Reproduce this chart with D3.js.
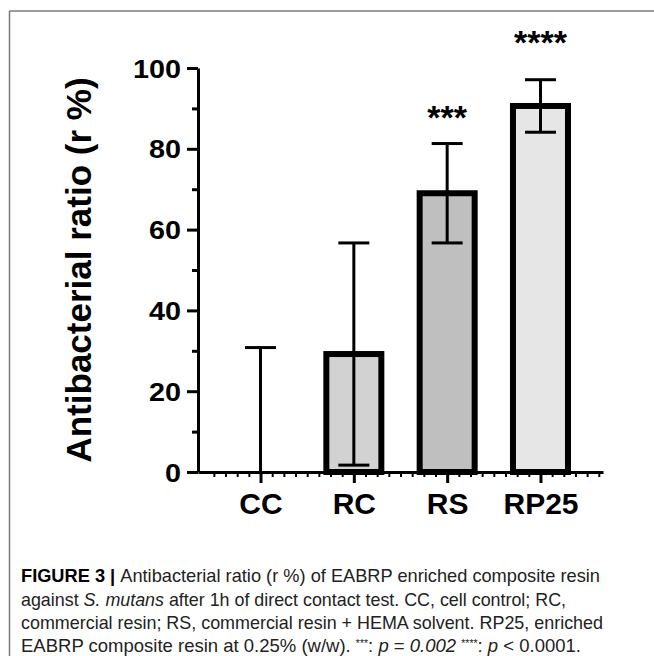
<!DOCTYPE html>
<html><head><meta charset="utf-8">
<script src="https://cdn.jsdelivr.net/npm/d3@7"></script>
<style>body{margin:0;background:#fff}svg{display:block}</style>
</head><body>
<svg id="chart" width="654" height="656"></svg>
<script>
// ---- data ----
const categories = ["CC", "RC", "RS", "RP25"];
const means = [0, 29.2, 69.0, 90.6];
const sds = [30.8, 27.5, 12.3, 6.5];
const fills = ["#ffffff", "#d2d2d2", "#bfbfbf", "#e6e6e6"];
const sigLabels = ["", "", "***", "****"];
const sigLevels = [null, null, 84.9, 103.5];
const yTicks = [0, 20, 40, 60, 80, 100];
const yMinorTicks = [10, 30, 50, 70, 90];
const yTitle = "Antibacterial ratio (r %)";

const svg = d3.select("#chart");
const W = 654, H = 656;
const axisX = 198, y0 = 472, y100 = 68, xEnd = 603;

// frame (top and left border of figure)
svg.append("line").attr("x1", 9.5).attr("x2", W).attr("y1", 11).attr("y2", 11)
  .attr("stroke", "#7a7a7a").attr("stroke-width", 1.5);
svg.append("line").attr("x1", 9.5).attr("x2", 9.5).attr("y1", 11).attr("y2", H)
  .attr("stroke", "#7a7a7a").attr("stroke-width", 1.5);

const y = d3.scaleLinear().domain([0, 100]).range([y0, y100]);
const x = d3.scalePoint().domain(categories).range([axisX, xEnd]).padding(0.67);
const barW = 55;

const data = categories.map((c, i) => ({ c, m: means[i], sd: sds[i], fill: fills[i], sig: sigLabels[i], sigY: sigLevels[i] }));

// bars
svg.append("g").selectAll("rect").data(data.filter(d => d.m > 0)).join("rect")
  .attr("x", d => x(d.c) - barW / 2)
  .attr("y", d => y(d.m))
  .attr("width", barW)
  .attr("height", d => y(0) - y(d.m))
  .attr("fill", d => d.fill)
  .attr("stroke", "#000")
  .attr("stroke-width", 6);

// error bars
const capW = 31;
const eg = svg.append("g").attr("stroke", "#000").attr("stroke-width", 3).attr("fill", "none");
data.forEach(d => {
  const hi = d.m + d.sd, lo = Math.max(0, d.m - d.sd);
  const cx = x(d.c);
  eg.append("line").attr("x1", cx).attr("x2", cx).attr("y1", y(hi)).attr("y2", y(lo));
  eg.append("line").attr("x1", cx - capW / 2).attr("x2", cx + capW / 2).attr("y1", y(hi)).attr("y2", y(hi));
  if (d.m - d.sd > 0) {
    eg.append("line").attr("x1", cx - capW / 2).attr("x2", cx + capW / 2).attr("y1", y(lo)).attr("y2", y(lo));
  }
});

// y axis
const sx = 1.15;
const yAxis = svg.append("g").attr("transform", `translate(${axisX},0)`)
  .call(d3.axisLeft(y).tickValues(yTicks).tickSize(11).tickSizeOuter(0).tickPadding(6));
yAxis.select(".domain").attr("stroke-width", 3);
yAxis.selectAll(".tick line").attr("stroke-width", 3);
yAxis.selectAll(".tick text")
  .attr("font-family", "'Liberation Sans', Arial, sans-serif")
  .attr("font-weight", "bold").attr("font-size", 25).attr("fill", "#000")
  .attr("x", -17 / sx).attr("dy", "0.36em")
  .attr("transform", `scale(${sx},1)`);
const yMinor = svg.append("g").attr("transform", `translate(${axisX},0)`)
  .call(d3.axisLeft(y).tickValues(yMinorTicks).tickSize(6).tickFormat(""));
yMinor.select(".domain").remove();
yMinor.selectAll(".tick line").attr("stroke-width", 3);

// x axis
const xAxis = svg.append("g").attr("transform", `translate(0,${y0})`)
  .call(d3.axisBottom(x).tickSize(11).tickSizeOuter(0).tickPadding(10));
xAxis.select(".domain").attr("stroke-width", 3);
xAxis.selectAll(".tick line").attr("stroke-width", 3);
xAxis.selectAll(".tick text")
  .attr("font-family", "'Liberation Sans', Arial, sans-serif")
  .attr("font-weight", "bold").attr("font-size", 30).attr("fill", "#000");

// x minor ticks (8 subdivisions per category step)
const idx = d3.scaleLinear().domain([0, categories.length - 1]).range([x(categories[0]), x(categories[categories.length - 1])]);
const minorVals = d3.range(-4, 30).filter(k => k % 8 !== 0).map(k => k / 8);
const xMinor = svg.append("g").attr("transform", `translate(0,${y0})`)
  .call(d3.axisBottom(idx).tickValues(minorVals).tickSize(5).tickFormat(""));
xMinor.select(".domain").remove();
xMinor.selectAll(".tick line").attr("stroke-width", 2);

// significance labels
svg.append("g").selectAll("text").data(data.filter(d => d.sig)).join("text")
  .attr("x", d => x(d.c)).attr("y", d => y(d.sigY))
  .attr("text-anchor", "middle")
  .attr("font-family", "'Liberation Sans', Arial, sans-serif")
  .attr("font-weight", "bold").attr("font-size", 34)
  .text(d => d.sig);

// y title
svg.append("text")
  .attr("transform", `translate(91,${(y0 + y100) / 2}) rotate(-90)`)
  .attr("text-anchor", "middle")
  .attr("font-family", "'Liberation Sans', Arial, sans-serif")
  .attr("font-weight", "bold").attr("font-size", 35)
  .text(yTitle);

// caption
const capFont = "'Liberation Sans Narrow', 'Liberation Sans', Arial, sans-serif";
const cap = svg.append("g").attr("font-family", capFont).attr("font-size", 18.5).attr("fill", "#222");
function line(yb, len, parts) {
  const t = cap.append("text").attr("x", 21).attr("y", yb);
  if (len) t.attr("textLength", len).attr("lengthAdjust", "spacingAndGlyphs");
  parts.forEach(p => {
    const s = t.append("tspan").text(p.t);
    if (p.b) s.attr("font-weight", "bold").attr("fill", "#000");
    if (p.i) s.attr("font-style", "italic");
    if (p.sup) s.attr("font-size", 10.5).attr("baseline-shift", "45%");
  });
}
line(582, 579, [{ t: "FIGURE 3 | ", b: true }, { t: "Antibacterial ratio (r %) of EABRP enriched composite resin" }]);
line(606, 545, [{ t: "against " }, { t: "S. mutans", i: true }, { t: " after 1h of direct contact test. CC, cell control; RC," }]);
line(629, 582, [{ t: "commercial resin; RS, commercial resin + HEMA solvent. RP25, enriched" }]);
line(652, null, [{ t: "EABRP composite resin at 0.25% (w/w). " }, { t: "***", sup: true }, { t: ": " },
  { t: "p", i: true }, { t: " = " }, { t: "0.002", i: true }, { t: " " }, { t: "****", sup: true }, { t: ": " },
  { t: "p", i: true }, { t: " < 0.0001." }]);
</script>
</body></html>
